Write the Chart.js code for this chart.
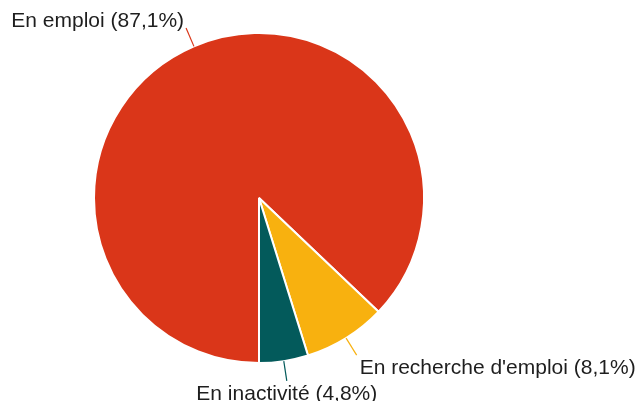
<!DOCTYPE html>
<html>
<head>
<meta charset="utf-8">
<script src="https://cdn.jsdelivr.net/npm/chart.js@4/dist/chart.umd.min.js"></script>
<style>
  html, body { margin: 0; padding: 0; background: #fff; }
  #wrap { width: 637px; height: 401px; position: relative; }
</style>
</head>
<body>
<div id="wrap"><canvas id="c" width="637" height="401"></canvas></div>
<script>
const categories = ["En emploi", "En recherche d'emploi", "En inactivité"];
const shares = [87.1, 8.1, 4.8];
const sliceColors = ["#DA3619", "#F8B10F", "#035A5B"];

const outLabels = {
  id: 'outLabels',
  afterDraw(chart) {
    const ctx = chart.ctx;
    const meta = chart.getDatasetMeta(0);
    ctx.save();
    ctx.font = '21px "Liberation Sans", Arial, sans-serif';
    ctx.fillStyle = '#1e1e1e';
    meta.data.forEach((arc, i) => {
      const p = arc.getProps(['x', 'y', 'startAngle', 'endAngle', 'outerRadius'], true);
      const mid = (p.startAngle + p.endAngle) / 2;
      const c = Math.cos(mid), s = Math.sin(mid);
      const x1 = p.x + c * p.outerRadius, y1 = p.y + s * p.outerRadius;
      const x2 = p.x + c * (p.outerRadius + 20), y2 = p.y + s * (p.outerRadius + 20);
      ctx.strokeStyle = sliceColors[i];
      ctx.lineWidth = 1.2;
      ctx.beginPath();
      ctx.moveTo(x1, y1);
      ctx.lineTo(x2, y2);
      ctx.stroke();
      const txt = categories[i] + ' (' + shares[i].toFixed(1).replace('.', ',') + '%)';
      let tx = x2, ty;
      if (c > 0.3) { ctx.textAlign = 'left'; tx = x2 + 3; }
      else if (c < -0.3) { ctx.textAlign = 'right'; tx = x2 - 2; }
      else { ctx.textAlign = 'center'; }
      ctx.textBaseline = 'alphabetic';
      if (s < 0) { ty = y2 - 1; } else { ty = y2 + 19; }
      ctx.fillText(txt, tx, ty);
    });
    ctx.restore();
  }
};

new Chart(document.getElementById('c'), {
  type: 'pie',
  data: {
    labels: categories,
    datasets: [{
      data: shares,
      backgroundColor: sliceColors,
      borderColor: '#ffffff',
      borderWidth: 2
    }]
  },
  options: {
    responsive: false,
    animation: false,
    rotation: 180,
    layout: { padding: { left: 93, right: 212, top: 32, bottom: 37 } },
    plugins: { legend: { display: false }, tooltip: { enabled: false } }
  },
  plugins: [outLabels]
});
</script>
</body>
</html>
